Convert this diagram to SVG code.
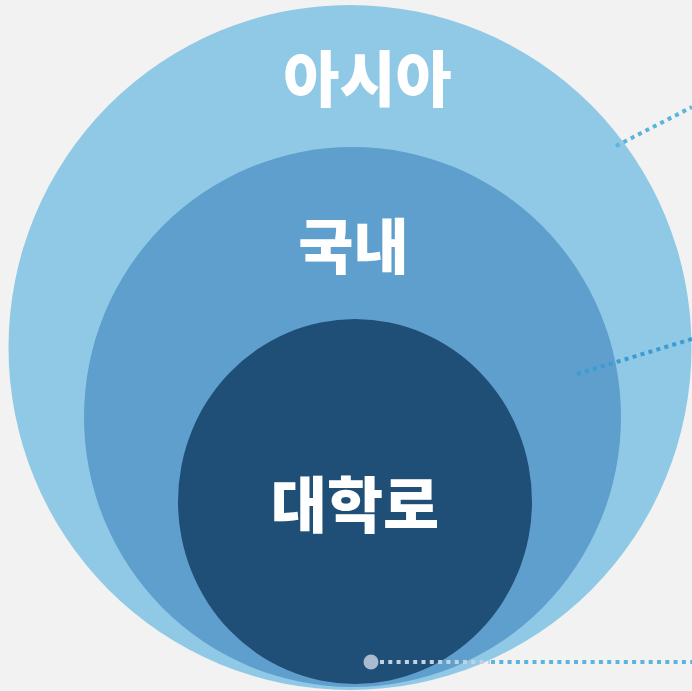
<svg xmlns="http://www.w3.org/2000/svg" width="692" height="691" viewBox="0 0 692 691">
<style>
.lbl{font-family:"Noto Sans CJK KR","Noto Sans",sans-serif;font-weight:900;fill:#ffffff;text-anchor:middle}
.dot{fill:none;stroke-width:4;stroke-dasharray:4 4.3}
</style>
<rect width="692" height="691" fill="#f2f2f2"/>
<g id="asia">
<ellipse cx="350" cy="347.5" rx="341.5" ry="342.5" fill="#8fc9e6"/>
<text class="lbl" x="367.5" y="102" font-size="61">아시아</text>
</g>
<g id="domestic">
<ellipse cx="352.5" cy="417" rx="268.5" ry="270" fill="#5f9fcd"/>
<text class="lbl" x="353.5" y="269" font-size="60">국내</text>
</g>
<g id="daehakro">
<ellipse cx="355" cy="501.5" rx="177" ry="182.5" fill="#1f4e77"/>
<text class="lbl" x="355" y="528" font-size="61">대학로</text>
</g>
<g id="connectors">
<line class="dot" x1="616" y1="146" x2="692" y2="107" stroke="#5ab4de"/>
<line class="dot" x1="577" y1="374" x2="692" y2="339" stroke="#3d9bd3"/>
<line class="dot" x1="380" y1="662" x2="490" y2="662" stroke="#c4d2e0"/>
<line class="dot" x1="491" y1="662" x2="692" y2="662" stroke="#5ab4de"/>
<circle cx="371" cy="662" r="7.5" fill="#a8bbcf"/>
</g>
</svg>
